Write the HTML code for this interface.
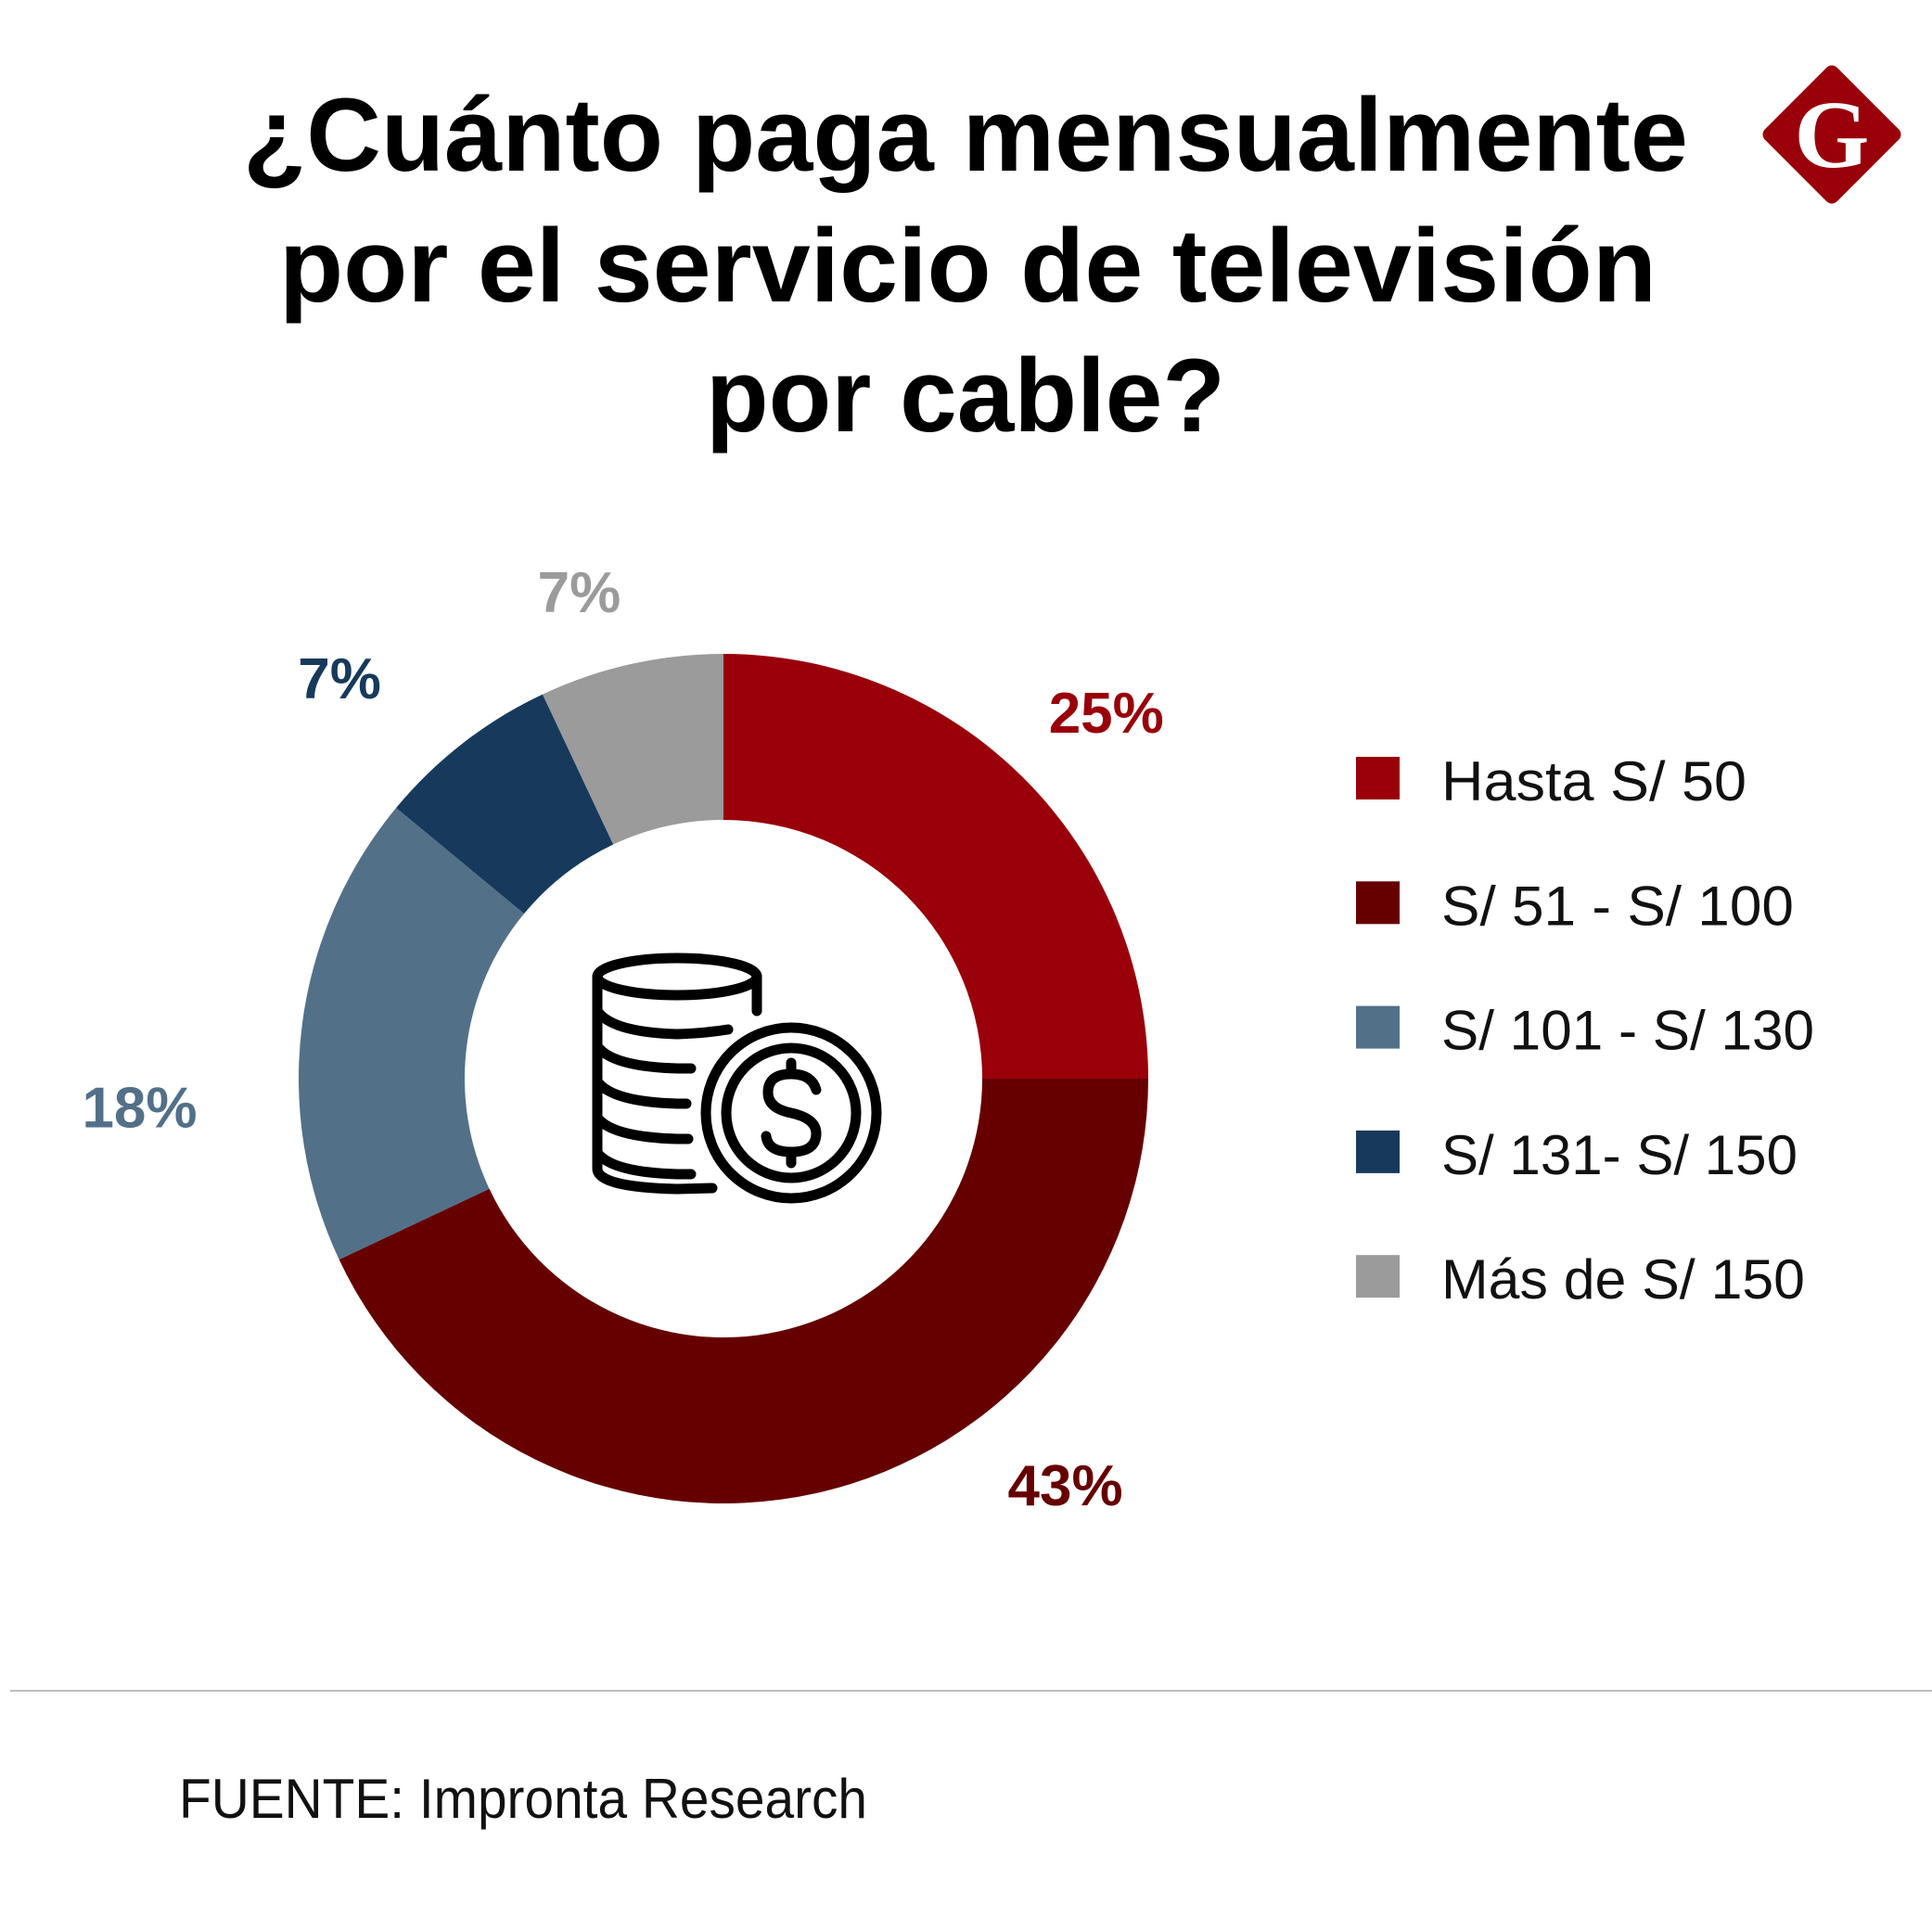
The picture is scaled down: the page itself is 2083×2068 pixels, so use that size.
<!DOCTYPE html>
<html><head><meta charset="utf-8"><style>
html,body{margin:0;padding:0;background:#fff;}
svg{display:block;}
text{font-family:"Liberation Sans",sans-serif;}
</style></head><body>
<svg id="chart" width="2083" height="2068" viewBox="0 0 2083 2068">
  <g font-weight="bold" font-size="112" fill="#000">
    <text x="262" y="184" textLength="1558" lengthAdjust="spacingAndGlyphs">¿Cuánto paga mensualmente</text>
    <text x="301" y="325" textLength="1485" lengthAdjust="spacingAndGlyphs">por el servicio de televisión</text>
    <text x="761" y="465" textLength="560" lengthAdjust="spacingAndGlyphs">por cable?</text>
  </g>
  <g>
    <rect x="1920" y="90" width="110" height="110" rx="8" fill="#990009" transform="rotate(45 1975 145)"/>
    <text x="1975" y="180" text-anchor="middle" style="font-family:'Liberation Serif',serif;font-weight:bold;font-size:104px" fill="#fff">G</text>
  </g>
  <g id="slices"></g>
  <g id="labels" font-weight="bold" font-size="62"></g>
  <g fill="none" stroke="#000" stroke-width="11" stroke-linecap="round">
    <ellipse cx="730" cy="1053" rx="86" ry="20"/>
    <path d="M644 1053 V1260 Q644 1280 730 1282 L768 1281"/>
    <path d="M816 1053 V1090"/>
    <path d="M644 1090 Q660 1113 730 1115 Q760 1114 785 1110"/>
    <path d="M644 1128 Q660 1150 730 1152 L745 1152"/>
    <path d="M644 1166 Q660 1188 730 1190 L740 1190"/>
    <path d="M644 1205 Q660 1226 730 1228 L742 1228"/>
    <path d="M644 1243 Q660 1264 730 1266 L745 1266"/>
    <circle cx="853" cy="1200" r="92"/>
    <circle cx="853" cy="1200" r="70"/>
    <path d="M880 1175 Q875 1158 853 1158 Q828 1158 828 1178 Q828 1195 853 1200 Q880 1206 880 1222 Q880 1242 853 1242 Q828 1242 826 1225"/>
    <path d="M853 1146 V1158 M853 1242 V1254"/>
  </g>
  <g id="legend"></g>
  <line x1="11" y1="1823" x2="2083" y2="1823" stroke="#bcbcbc" stroke-width="2"/>
  <text x="193" y="1960" font-size="60" fill="#111" textLength="742" lengthAdjust="spacingAndGlyphs">FUENTE: Impronta Research</text>
</svg>
<script>
const categories = ["Hasta S/ 50", "S/ 51 - S/ 100", "S/ 101 - S/ 130", "S/ 131- S/ 150", "Más de S/ 150"];
const values = [25, 43, 18, 7, 7];
const valueLabels = ["25%", "43%", "18%", "7%", "7%"];
const colors = ["#990009", "#660000", "#537089", "#173a5c", "#9b9b9b"];
// layout-only nudges for label placement
const labelNudgeX = [9, 244, -63, -64, -31];
const labelNudgeY = [8, -120, 101, 18, 31];
const legendWidths = [329, 380, 402, 384, 392];

const NS = "http://www.w3.org/2000/svg";
const cx = 780, cy = 1163, R = 458, r = 279;
const total = values.reduce((a, b) => a + b, 0);
function ang(v) { return v / total * 2 * Math.PI - Math.PI / 2; }
function pt(rad, a) { return [cx + rad * Math.cos(a), cy + rad * Math.sin(a)]; }

const sg = document.getElementById('slices');
const lg = document.getElementById('labels');
const leg = document.getElementById('legend');
let cum = 0;
values.forEach((v, i) => {
  const a0 = ang(cum), a1 = ang(cum + v);
  const large = (a1 - a0) > Math.PI ? 1 : 0;
  const [x0, y0] = pt(R, a0), [x1, y1] = pt(R, a1);
  const [x2, y2] = pt(r, a1), [x3, y3] = pt(r, a0);
  const p = document.createElementNS(NS, 'path');
  p.setAttribute('d', `M${x0} ${y0} A${R} ${R} 0 ${large} 1 ${x1} ${y1} L${x2} ${y2} A${r} ${r} 0 ${large} 0 ${x3} ${y3} Z`);
  p.setAttribute('fill', colors[i]);
  
  
  sg.appendChild(p);

  const am = ang(cum + v / 2);
  const [lx, ly] = pt(571, am);
  const t = document.createElementNS(NS, 'text');
  t.setAttribute('x', lx + labelNudgeX[i]);
  t.setAttribute('y', ly + labelNudgeY[i] + 23);
  t.setAttribute('text-anchor', 'middle');
  t.setAttribute('fill', colors[i]);
  t.textContent = valueLabels[i];
  
  
  lg.appendChild(t);

  const y = 839 + i * 134.3;
  const sq = document.createElementNS(NS, 'rect');
  sq.setAttribute('x', 1462); sq.setAttribute('y', y - 23);
  sq.setAttribute('width', 47); sq.setAttribute('height', 46);
  sq.setAttribute('fill', colors[i]);
  
  
  leg.appendChild(sq);
  const lt = document.createElementNS(NS, 'text');
  lt.setAttribute('x', 1554); lt.setAttribute('y', y + 24);
  lt.setAttribute('font-size', '60');
  lt.setAttribute('fill', '#111');
  lt.setAttribute('textLength', legendWidths[i]);
  lt.setAttribute('lengthAdjust', 'spacingAndGlyphs');
  lt.textContent = categories[i];
  
  
  leg.appendChild(lt);
  cum += v;
});
</script>
</body></html>
